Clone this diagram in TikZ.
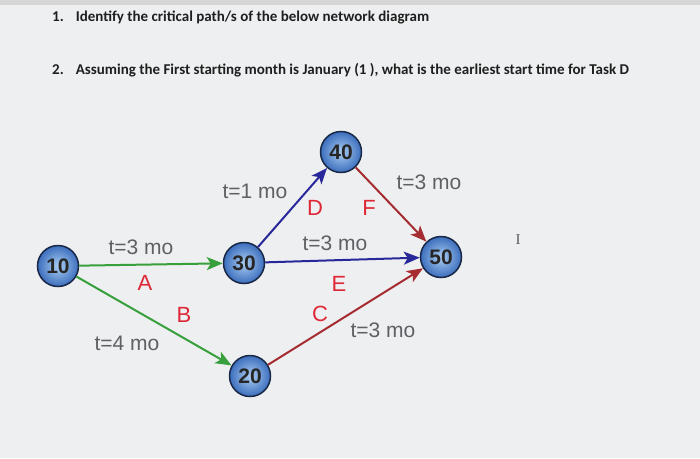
\documentclass[tikz,border=0pt]{standalone}
\usepackage{fontspec}
\setmainfont{Liberation Sans}
\newfontfamily\hdfont{Carlito}
\newfontfamily\crfont{Liberation Serif}
\usetikzlibrary{arrows.meta}
\definecolor{bgc}{RGB}{238,239,240}
\definecolor{topc}{RGB}{214,214,214}
\definecolor{txtg}{RGB}{95,95,100}
\definecolor{lred}{RGB}{222,40,55}
\definecolor{egreen}{RGB}{55,160,60}
\definecolor{eblue}{RGB}{40,40,155}
\definecolor{ered}{RGB}{165,45,50}
\definecolor{cin}{RGB}{170,205,240}
\definecolor{cout}{RGB}{60,110,190}
\definecolor{cedge}{RGB}{25,40,70}
\begin{document}
\begin{tikzpicture}[x=1pt,y=-1pt,
  ev/.style={circle,minimum size=41pt,inner sep=0pt,draw=cedge,line width=1.5pt,
    inner color=cin,outer color=cout,font=\fontsize{21}{21}\selectfont\bfseries,text=black!85},
  hd/.style={anchor=west,inner sep=0pt,font=\hdfont\fontsize{15}{15}\selectfont\bfseries,text=black!88},
  dur/.style={inner sep=0pt,font=\fontsize{21}{21}\selectfont,text=txtg},
  tsk/.style={inner sep=0pt,font=\fontsize{22}{22}\selectfont,text=lred},
  edg/.style={line width=2pt,-{Stealth[length=16pt,width=13pt,inset=4pt]}},
]
\fill[bgc] (0,0) rectangle (700,458);
\fill[topc] (0,0) rectangle (700,5);
\useasboundingbox (0,0) rectangle (700,458);

\node[hd] (q1) at (52,17) {1.\hspace{12pt}Identify the critical path/s of the below network diagram};
\node[hd] (q2) at (52,70) {2.\hspace{12pt}Assuming the First starting month is January (1 ), what is the earliest start time for Task D};

\node[ev] (n10) at (58,266) {10};
\node[ev] (n30) at (244,263) {30};
\node[ev] (n20) at (250,376) {20};
\node[ev] (n40) at (341,152) {40};
\node[ev] (n50) at (441,257) {50};

\draw[edg,egreen] (n10) -- (n30);
\draw[edg,egreen] (n10) -- (n20);
\draw[edg,eblue] (n30) -- (n40);
\draw[edg,eblue] (n30) -- (n50);
\draw[edg,ered] (n40) -- (n50);
\draw[edg,ered] (n20) -- (n50);

\node[dur] (dA) at (141,247) {t=3 mo};
\node[tsk] (lA) at (145,283) {A};
\node[tsk] (lB) at (184,315) {B};
\node[dur] (dB) at (127,343) {t=4 mo};
\node[dur] (dD) at (255,191) {t=1 mo};
\node[tsk] (lD) at (315,208) {D};
\node[tsk] (lF) at (369,208) {F};
\node[dur] (dF) at (429,182) {t=3 mo};
\node[dur] (dE) at (335,243) {t=3 mo};
\node[tsk] (lE) at (339,284) {E};
\node[tsk] (lC) at (320,314) {C};
\node[dur] (dC) at (383,330) {t=3 mo};

\node[inner sep=0pt,font=\crfont\fontsize{15}{15}\selectfont,text=black!65] (cursor) at (518,240) {I};
\end{tikzpicture}
\end{document}
